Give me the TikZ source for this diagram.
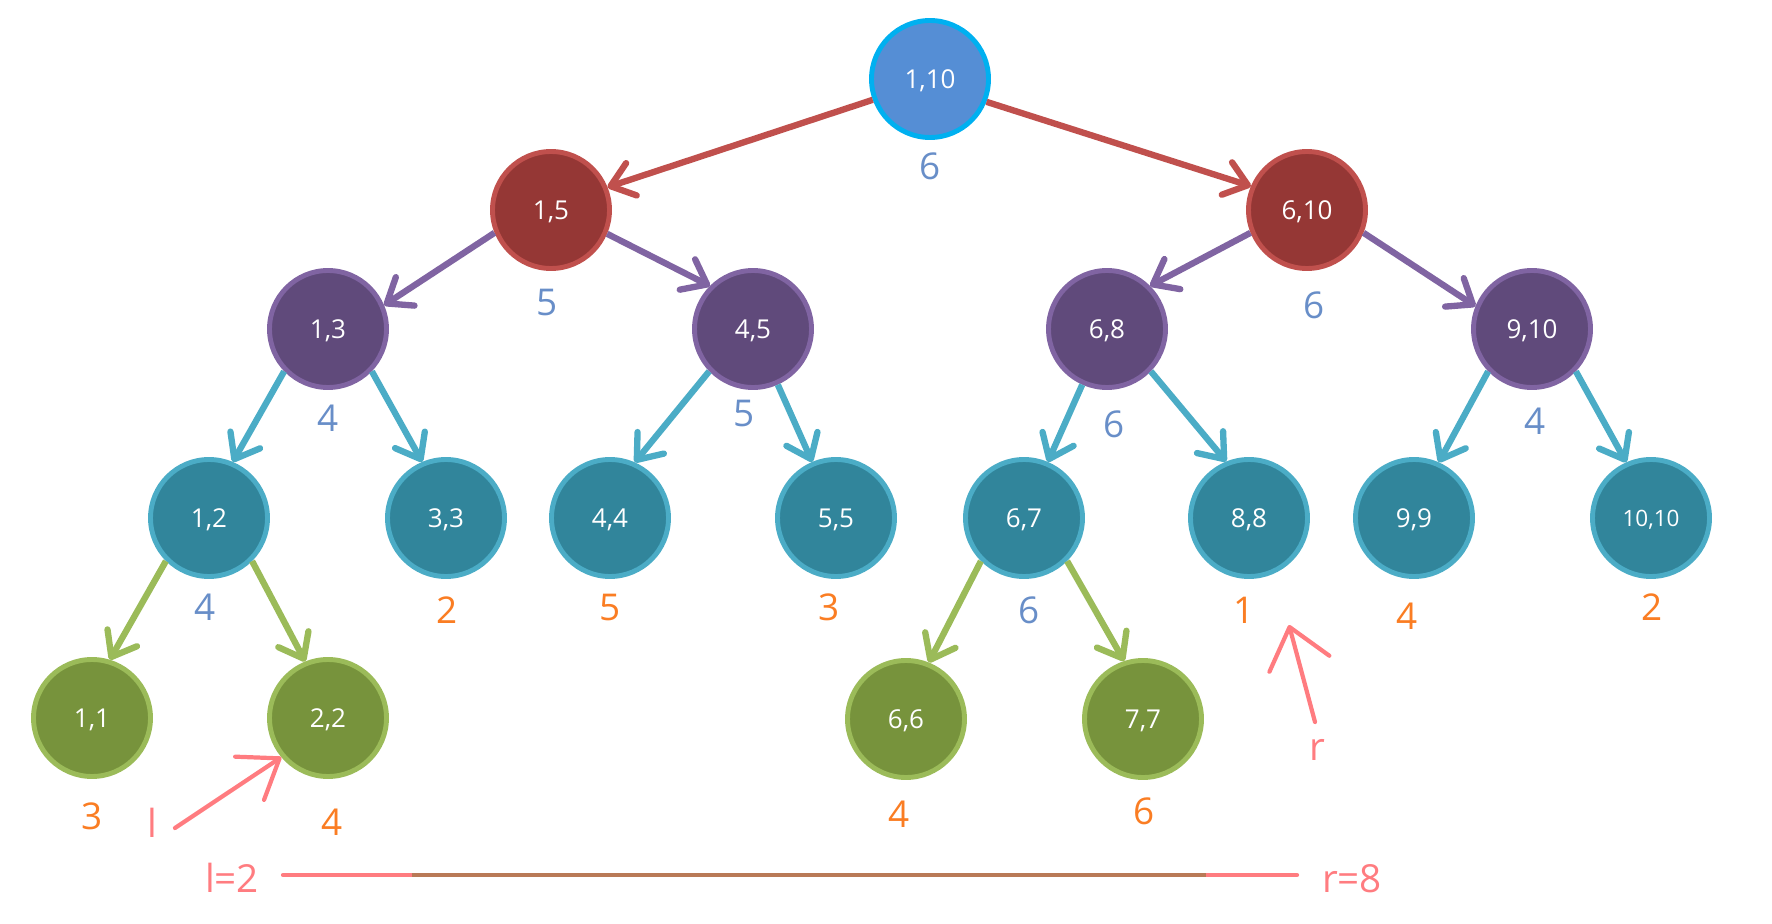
\documentclass[tikz,border=0pt]{standalone}
\usepackage{fontspec}
\setmainfont{Open Sans}
\usetikzlibrary{arrows.meta}
\definecolor{RootFill}{RGB}{85, 142, 213}
\definecolor{RootLine}{RGB}{0, 176, 240}
\definecolor{RedFill}{RGB}{149, 55, 53}
\definecolor{RedLine}{RGB}{192, 80, 77}
\definecolor{PurpleFill}{RGB}{96, 74, 123}
\definecolor{PurpleLine}{RGB}{128, 100, 162}
\definecolor{TealFill}{RGB}{49, 133, 155}
\definecolor{TealLine}{RGB}{75, 172, 198}
\definecolor{GreenFill}{RGB}{119, 147, 60}
\definecolor{GreenLine}{RGB}{155, 187, 89}
\definecolor{ValBlue}{RGB}{104, 142, 200}
\definecolor{ValOrange}{RGB}{250, 125, 35}
\definecolor{MarkPink}{RGB}{255, 124, 128}
\definecolor{SpanBrown}{RGB}{185, 122, 87}

\tikzset{
  seg/.style={circle, minimum size=1.17cm, inner sep=0pt, line width=1.4pt,
    text=white, text depth=0pt, font=\fontsize{7.4}{9}\selectfont},
  lv0/.style={seg, fill=RootFill, draw=RootLine},
  lv1/.style={seg, fill=RedFill, draw=RedLine},
  lv2/.style={seg, fill=PurpleFill, draw=PurpleLine},
  lv3/.style={seg, fill=TealFill, draw=TealLine},
  lv3s/.style={lv3, font=\fontsize{6.4}{8}\selectfont},
  lv4/.style={seg, fill=GreenFill, draw=GreenLine},
  edge/.style={line width=1.8pt, -{Straight Barb[length=0.22cm, width=0.34cm, round]}},
  val/.style={font=\fontsize{10.5}{12}\selectfont, inner sep=1pt},
  ptr/.style={MarkPink, line width=1.2pt, line cap=round,
    -{Straight Barb[length=0.36cm, width=0.52cm, round]}},
  ptrlabel/.style={MarkPink, font=\fontsize{11}{13}\selectfont, inner sep=1pt}
}

\begin{document}
\begin{tikzpicture}[x=1cm, y=-1cm]
      \useasboundingbox (0,0) rectangle (17.72,9.24);

      % Segment nodes
      \foreach \i/\j/\x/\y/\lv in {1/10/9.30/0.79/lv0,
                                   1/5/5.51/2.10/lv1, 6/10/13.07/2.10/lv1,
                                   1/3/3.28/3.29/lv2, 4/5/7.53/3.29/lv2, 6/8/11.07/3.29/lv2, 9/10/15.32/3.29/lv2,
                                   1/2/2.09/5.18/lv3, 3/3/4.46/5.18/lv3, 4/4/6.10/5.18/lv3, 5/5/8.36/5.18/lv3,
                                   6/7/10.24/5.18/lv3, 8/8/12.49/5.18/lv3, 9/9/14.14/5.18/lv3, 10/10/16.51/5.18/lv3s,
                                   1/1/0.92/7.18/lv4, 2/2/3.28/7.18/lv4, 6/6/9.06/7.19/lv4, 7/7/11.43/7.19/lv4} {
        \node[\lv] (n\i-\j) at (\x,\y) {\i,\j};
      }

      % Edges
      \foreach \a/\b/\oa/\ia/\c in {n1-10/n1-5/200/22/RedLine, n1-10/n6-10/338/157/RedLine,
                                    n1-5/n1-3/202/23/PurpleLine, n1-5/n4-5/337/135/PurpleLine,
                                    n6-10/n6-8/202/45/PurpleLine, n6-10/n9-10/338/158/PurpleLine,
                                    n1-3/n1-2/224/67/TealLine, n1-3/n3-3/316/113/TealLine,
                                    n4-5/n4-4/224/66/TealLine, n4-5/n5-5/294/113/TealLine,
                                    n6-8/n6-7/246/67/TealLine, n6-8/n8-8/316/112/TealLine,
                                    n9-10/n9-9/224/66/TealLine, n9-10/n10-10/316/114/TealLine,
                                    n1-2/n1-1/225/73/GreenLine, n1-2/n2-2/315/112/GreenLine,
                                    n6-7/n6-6/225/68/GreenLine, n6-7/n7-7/315/108/GreenLine} {
        \draw[edge, \c] (\a.\oa) -- (\b.\ia);
      }

      % Values under the nodes
      \foreach \x/\y/\v/\c [count=\k] in {9.30/1.66/6/ValBlue, 5.47/3.03/5/ValBlue, 13.14/3.05/6/ValBlue,
                            3.28/4.18/4/ValBlue, 7.44/4.14/5/ValBlue, 11.14/4.24/6/ValBlue, 15.35/4.21/4/ValBlue,
                            2.05/6.07/4/ValBlue, 4.47/6.10/2/ValOrange, 6.10/6.08/5/ValOrange, 8.29/6.07/3/ValOrange,
                            10.29/6.10/6/ValBlue, 12.44/6.10/1/ValOrange, 14.07/6.16/4/ValOrange, 16.52/6.07/2/ValOrange,
                            0.92/8.16/3/ValOrange, 3.32/8.22/4/ValOrange, 8.99/8.14/4/ValOrange, 11.44/8.11/6/ValOrange} {
        \node[val, text=\c] (val\k) at (\x,\y) {\v};
      }

      % l and r pointers
      \node[ptrlabel] (lmark) at (1.52,8.23) {l};
      \coordinate (lstart) at (1.75,8.28);
      \draw[ptr] (lstart) -- (n2-2.220);

      \node[ptrlabel] (rmark) at (13.17,7.50) {r};
      \coordinate (rstart) at (13.15,7.22);
      \coordinate (rtip) at (12.89,6.25);
      \draw[ptr, -{Straight Barb[length=0.38cm, width=0.62cm, round]}] (rstart) -- (rtip);

      % Query span
      \node[ptrlabel] (lq) at (2.32,8.78) {l=2};
      \node[ptrlabel] (rq) at (13.52,8.79) {r=8};
      \coordinate (spanL) at (2.83,8.75);
      \coordinate (spanR) at (12.97,8.75);
      \coordinate (brownL) at (4.12,8.75);
      \coordinate (brownR) at (12.06,8.75);
      \draw[MarkPink, line width=1.2pt, line cap=round] (spanL) -- (spanR);
      \draw[SpanBrown, line width=1.2pt] (brownL) -- (brownR);
\end{tikzpicture}
\end{document}
